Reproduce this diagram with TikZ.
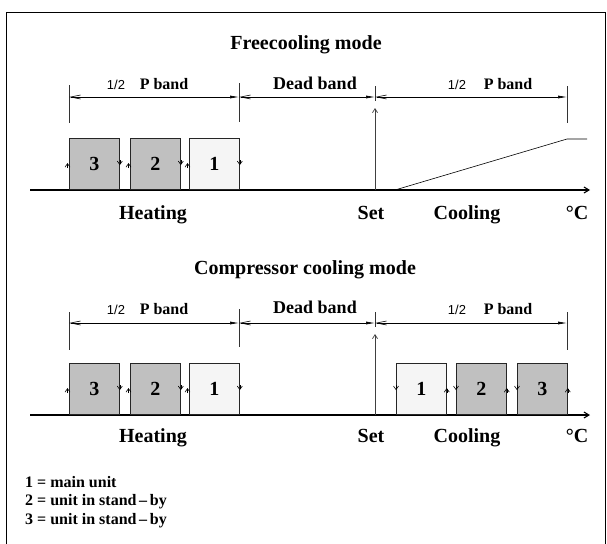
\documentclass[tikz,border=0pt]{standalone}
\usepackage{fontspec}
\setmainfont{Liberation Serif}
\newfontfamily\helv{Liberation Sans}
\usetikzlibrary{arrows.meta}
\definecolor{unitgray}{HTML}{C0C0C0}
\definecolor{unitlight}{HTML}{F5F5F5}
\tikzset{
  x=1pt, y=-1pt,
  unitbox/.style={draw=black!85, line width=0.8pt, minimum width=50pt, minimum height=51pt, inner sep=0pt, anchor=south west, font=\bfseries\fontsize{20}{20}\selectfont},
  standby/.style={unitbox, fill=unitgray},
  mainunit/.style={unitbox, fill=unitlight},
  dimline/.style={line width=0.6pt, {Straight Barb[length=10pt,width=4pt]}-{Latex[length=9pt,width=3pt]}},
  tickline/.style={line width=0.6pt, black!80},
  axisline/.style={line width=1.1pt, -{Straight Barb[length=5pt,width=6pt]}},
  setline/.style={line width=0.7pt, black!75, -{Straight Barb[length=4pt,width=5pt]}},
  sidemark/.style={line width=0.6pt, -{Straight Barb[length=3.5pt,width=5pt]}},
  title/.style={font=\bfseries\fontsize{20}{20}\selectfont},
  axlabel/.style={font=\bfseries\fontsize{20}{20}\selectfont, text height=14pt, text depth=4pt},
  deadlabel/.style={font=\bfseries\fontsize{18}{18}\selectfont, text height=12pt, text depth=0pt},
  bandlabel/.style={font=\bfseries\fontsize{16}{16}\selectfont, text height=11pt, text depth=0pt},
  half/.style={font=\helv\fontsize{13}{13}\selectfont, text height=10pt, text depth=0pt},
  legend/.style={font=\bfseries\fontsize{16}{16}\selectfont, anchor=west, inner sep=0pt}
}
\begin{document}
\begin{tikzpicture}
\useasboundingbox (0,0) rectangle (607,543);
\fill[white] (0,0) rectangle (607,543);
\draw[line width=0.8pt] (6,12) rectangle (605,560);

% ===== Freecooling mode =====
\node[title] (t1) at (306,45) {Freecooling mode};
\coordinate (fA) at (69,97); \coordinate (fB) at (239,97);
\coordinate (fC) at (375,97); \coordinate (fD) at (567,97);
\draw[tickline] (69,85) -- (69,123);
\draw[tickline] (239,83) -- (239,122);
\draw[tickline] (375,86) -- (375,101);
\draw[tickline] (567,86) -- (567,123);
\draw[dimline] (fA) -- (fB);
\draw[dimline] (fB) -- (fC);
\draw[dimline] (fC) -- (fD);
\node[half] (fh1) at (116,84) {1/2};
\node[bandlabel] (fp1) at (164,84) {P band};
\node[deadlabel] (fdb) at (315,83) {Dead band};
\node[half] (fh2) at (457,84) {1/2};
\node[bandlabel] (fp2) at (508,84) {P band};
\coordinate (fax0) at (30,190); \coordinate (fax1) at (590,190);
\draw[axisline] (fax0) -- (fax1);
\node[standby] (f3) at (69,190) {3};
\node[standby] (f2) at (130,190) {2};
\node[mainunit] (f1) at (189,190) {1};
\foreach \b in {f3,f2,f1}{
  \draw[sidemark] ([xshift=-1.5pt,yshift=-4pt]\b.west) -- ([xshift=-1.5pt,yshift=1pt]\b.west);
  \draw[sidemark] ([yshift=4pt]\b.east) -- ([yshift=-1pt]\b.east);
}
\coordinate (fset0) at (375,190); \coordinate (fset1) at (375,108);
\draw[setline] (fset0) -- (fset1);
\coordinate (r0) at (395,190); \coordinate (r1) at (567,139); \coordinate (r2) at (587,139);
\draw[line width=0.6pt] (r0) -- (r1) -- (r2);
\node[axlabel] (fheat) at (153,214) {Heating};
\node[axlabel] (fsetl) at (371,214) {Set};
\node[axlabel] (fcool) at (467,214) {Cooling};
\node[axlabel] (fdeg) at (577,214) {°C};

% ===== Compressor cooling mode =====
\node[title] (t2) at (305,270) {Compressor cooling mode};
\coordinate (cA) at (69,323); \coordinate (cB) at (239,323);
\coordinate (cC) at (375,323); \coordinate (cD) at (567,323);
\draw[tickline] (69,312) -- (69,350);
\draw[tickline] (239,309) -- (239,347);
\draw[tickline] (375,312) -- (375,327);
\draw[tickline] (567,312) -- (567,350);
\draw[dimline] (cA) -- (cB);
\draw[dimline] (cB) -- (cC);
\draw[dimline] (cC) -- (cD);
\node[half] (ch1) at (116,309) {1/2};
\node[bandlabel] (cp1) at (164,309) {P band};
\node[deadlabel] (cdb) at (315,307) {Dead band};
\node[half] (ch2) at (457,309) {1/2};
\node[bandlabel] (cp2) at (508,309) {P band};
\coordinate (cax0) at (30,415); \coordinate (cax1) at (590,415);
\draw[axisline] (cax0) -- (cax1);
\node[standby] (c3) at (69,415) {3};
\node[standby] (c2) at (130,415) {2};
\node[mainunit] (c1) at (189,415) {1};
\foreach \b in {c3,c2,c1}{
  \draw[sidemark] ([xshift=-1.5pt,yshift=-4pt]\b.west) -- ([xshift=-1.5pt,yshift=1pt]\b.west);
  \draw[sidemark] ([yshift=4pt]\b.east) -- ([yshift=-1pt]\b.east);
}
\node[mainunit] (d1) at (396,415) {1};
\node[standby] (d2) at (456,415) {2};
\node[standby] (d3) at (517,415) {3};
\foreach \b in {d1,d2,d3}{
  \draw[sidemark] ([yshift=4pt]\b.west) -- ([yshift=-1pt]\b.west);
  \draw[sidemark] ([yshift=-4pt]\b.east) -- ([yshift=1pt]\b.east);
}
\coordinate (cset0) at (375,415); \coordinate (cset1) at (375,334);
\draw[setline] (cset0) -- (cset1);
\node[axlabel] (cheat) at (153,437) {Heating};
\node[axlabel] (csetl) at (371,437) {Set};
\node[axlabel] (ccool) at (467,437) {Cooling};
\node[axlabel] (cdeg) at (577,437) {°C};

% ===== legend =====
\node[legend] (l1) at (25,482) {1 = main unit};
\node[legend] (l2) at (25,502) {2 = unit in stand\,–\,by};
\node[legend] (l3) at (25,521) {3 = unit in stand\,–\,by};
\end{tikzpicture}
\end{document}
